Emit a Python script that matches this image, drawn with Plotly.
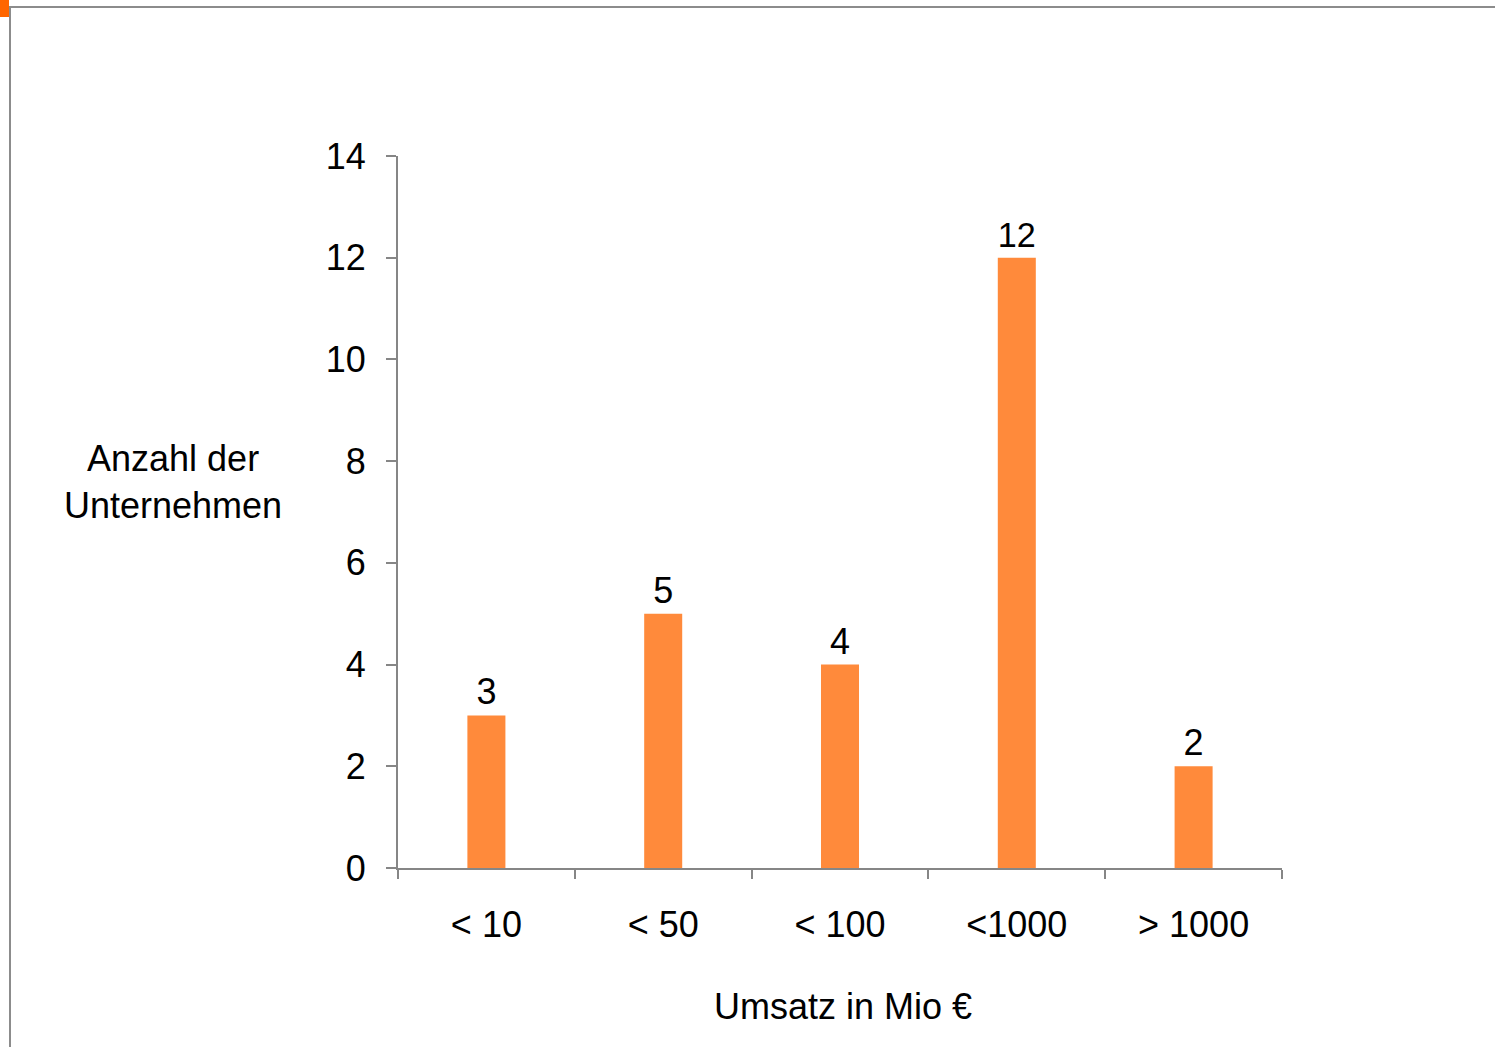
import plotly.graph_objects as go

categories = ["< 10", "< 50", "< 100", "<1000", "> 1000"]
counts = [3, 5, 4, 12, 2]
y_ticks = [0, 2, 4, 6, 8, 10, 12, 14]

W, H = 1495, 1047
L, R, T, B = 398, 1282, 156, 868
FONT = "Liberation Sans, Arial, sans-serif"
GREY = "#868686"
FS = 36

def px(x):
    return (x - L) / (R - L)

def py(y):
    return (B - y) / (B - T)

fig = go.Figure()
fig.add_trace(go.Bar(
    x=categories, y=counts,
    marker=dict(color="#FF8A3B", line=dict(width=0)),
    width=0.215,
    text=[str(v) for v in counts],
    textposition="outside",
    textfont=dict(family=FONT, size=FS, color="black"),
    cliponaxis=False,
))

fig.update_layout(
    width=W, height=H,
    margin=dict(l=L, r=W - R, t=T, b=H - B),
    plot_bgcolor="white", paper_bgcolor="white",
    showlegend=False,
    font=dict(family=FONT, color="black"),
    xaxis=dict(
        type="category",
        showline=True, linecolor=GREY, linewidth=2,
        ticks="outside", tickson="boundaries", ticklen=9, tickcolor=GREY, tickwidth=2,
        tickfont=dict(family=FONT, size=FS, color="black"),
        ticklabelstandoff=24,
        showgrid=False, zeroline=False,
    ),
    yaxis=dict(
        range=[0, 14],
        tickvals=y_ticks,
        showline=True, linecolor=GREY, linewidth=2,
        ticks="outside", ticklen=10, tickcolor=GREY, tickwidth=2,
        tickfont=dict(family=FONT, size=FS, color="black"),
        ticklabelstandoff=13,
        showgrid=False, zeroline=False,
    ),
    annotations=[
        dict(text="Anzahl der<br>Unternehmen", xref="paper", yref="paper",
             x=px(173), y=py(482), xanchor="center", yanchor="middle",
             showarrow=False, align="center",
             font=dict(family=FONT, size=FS, color="black")),
        dict(text="Umsatz in Mio €", xref="paper", yref="paper",
             x=px(843), y=py(1006), xanchor="center", yanchor="middle",
             showarrow=False,
             font=dict(family=FONT, size=FS, color="black")),
    ],
    shapes=[
        dict(type="line", xref="paper", yref="paper",
             x0=px(9), x1=px(W + 5), y0=py(7), y1=py(7),
             line=dict(color="#8C8C8C", width=2)),
        dict(type="line", xref="paper", yref="paper",
             x0=px(10), x1=px(10), y0=py(7), y1=py(H + 5),
             line=dict(color="#8C8C8C", width=2)),
        dict(type="rect", xref="paper", yref="paper",
             x0=px(0), x1=px(9), y0=py(0), y1=py(17),
             fillcolor="#FF6600", line=dict(width=0)),
    ],
)

fig.write_html(
    "out.html",
    config={"displayModeBar": False},
    post_script="document.body.style.margin='0';document.body.style.overflow='hidden';",
)
